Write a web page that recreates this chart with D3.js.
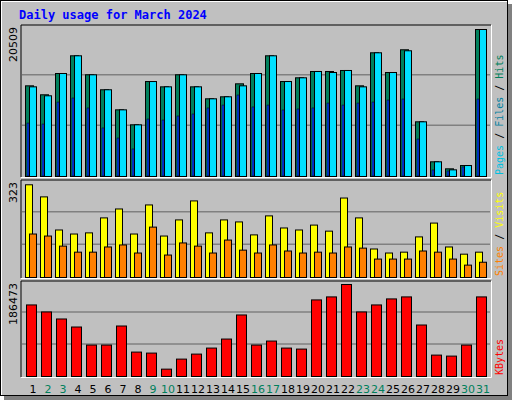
<!DOCTYPE html>
<html>
<head>
<meta charset="UTF-8">
<script src="https://d3js.org/d3.v7.min.js"></script>
<style>
  body { margin: 0; background: #fff; }
  text { font-family: "DejaVu Sans", sans-serif; }
</style>
</head>
<body>
<svg id="chart" width="512" height="400"></svg>
<script>
// values
let days = d3.range(1, 32)
let weekend = [2, 3, 9, 10, 16, 17, 23, 24, 30, 31]
let hits = [12650, 11400, 14370, 16840, 14190, 12100, 9300, 7210, 13250, 12510, 14190, 12510, 10840, 11120, 12930, 14370,
            16840, 13250, 13770, 14650, 14650, 14790, 12650, 17260, 14510, 17680, 7630, 2050, 1070, 1530, 20509]
let files = [12510, 11260, 14370, 16840, 14190, 12100, 9300, 7210, 13250, 12510, 14190, 12510, 10840, 11120, 12650, 14370,
             16840, 13250, 13770, 14650, 14510, 14790, 12510, 17260, 14510, 17540, 7630, 2050, 930, 1530, 20509]
let pages = [7390, 7250, 10320, 10880, 9490, 6700, 5300, 3770, 7950, 7810, 8370, 8650, 9490, 9900, 11300, 9630,
             9900, 9210, 9350, 9490, 10180, 9900, 10180, 10320, 10600, 10740, 5160, 840, 700, 1260, 10740]
let visits = [322, 280, 165, 151, 155, 207, 238, 151, 252, 144, 200, 266, 155, 200, 193, 148,
              214, 172, 165, 182, 161, 276, 207, 99, 85, 88, 141, 189, 106, 81, 88]
let sites = [151, 144, 109, 88, 88, 106, 113, 85, 175, 78, 120, 109, 85, 130, 95, 85,
             113, 92, 85, 88, 85, 106, 102, 64, 64, 64, 92, 88, 64, 43, 53]
let kbytes = [145050, 130820, 116580, 100310, 63710, 63710, 102350, 49480, 47450, 14910, 35250, 45410, 57610, 75910, 124720, 63710,
              71850, 57610, 55580, 155220, 161320, 186473, 130820, 145050, 157250, 161320, 104380, 43380, 41350, 63710, 161320]

let svg = d3.select("#chart")
let bg = "#c0c0c0"

// frame with shadow
svg.append("rect").attr("x", 4).attr("y", 4).attr("width", 508).attr("height", 396).attr("fill", "#808080")
svg.append("rect").attr("x", 0).attr("y", 0).attr("width", 508).attr("height", 396).attr("fill", "#000")
svg.append("rect").attr("x", 1).attr("y", 1).attr("width", 506).attr("height", 394).attr("fill", "#fff")
svg.append("rect").attr("x", 2).attr("y", 2).attr("width", 505).attr("height", 393).attr("fill", bg)

svg.append("text").attr("x", 19).attr("y", 19)
    .style("font-family", "'DejaVu Sans Mono', monospace").style("font-weight", "bold").style("font-size", "12px")
    .attr("fill", "#0000ff").text("Daily usage for March 2024")

let x = d3.scaleBand().domain(days).range([22, 487]).paddingInner(0)

function panel(top, bottom, topValue, maxVal, label, legend) {
    svg.append("rect").attr("x", 21).attr("y", top).attr("width", 470).attr("height", bottom - top)
        .attr("fill", bg)
    svg.append("path").attr("d", `M21,${bottom}V${top}H491`).attr("stroke", "#000").attr("fill", "none")
    svg.append("path").attr("d", `M21,${bottom + 0.5}H491.5V${top}`).attr("stroke", "#fff").attr("fill", "none")
    let h = bottom - top
    ;[1, 2].forEach(k => {
        svg.append("line").attr("x1", 22).attr("x2", 490)
            .attr("y1", bottom - 1 - k * h / 3).attr("y2", bottom - 1 - k * h / 3)
            .attr("stroke", "#808080").attr("stroke-width", 1.5)
    })
    svg.append("text").attr("transform", `translate(17,${top + 2}) rotate(-90)`)
        .attr("text-anchor", "end").style("font-size", "11px").attr("fill", "#000").text(label)
    let lg = svg.append("text").attr("transform", `translate(503,${bottom - 2}) rotate(-90)`)
        .style("font-family", "'DejaVu Sans Mono', monospace").style("font-size", "10px")
    legend.forEach((p, i) => {
        if (i > 0) lg.append("tspan").attr("fill", "#000").text(" / ")
        lg.append("tspan").attr("fill", p[1]).text(p[0])
    })
    return d3.scaleLinear().domain([0, maxVal]).range([bottom - 1, topValue])
}

function bars(data, y, dx, w, color) {
    svg.append("g").selectAll("rect").data(data).join("rect")
        .attr("x", (d, i) => x(days[i]) + dx + 0.5)
        .attr("y", d => y(d) + 0.5)
        .attr("width", w)
        .attr("height", d => y(0) - y(d))
        .attr("fill", color).attr("stroke", "#000")
}

// hits / files / pages
let y1 = panel(25, 177, 29, 20509, "20509", [["Pages", "#00c0e0"], ["Files", "#0080a0"], ["Hits", "#00805c"]])
bars(hits, y1, 3, 8, "#00805c")
bars(files, y1, 7, 7, "#00e0ff")
svg.append("g").selectAll("rect").data(pages).join("rect")
    .attr("x", (d, i) => x(days[i]) + 5).attr("y", d => y1(d))
    .attr("width", 2).attr("height", d => y1(0) - y1(d)).attr("fill", "#0040ff")
    .attr("stroke", "#000").attr("stroke-width", 0.5)

// visits / sites
let y2 = panel(180, 278, 184, 323, "323", [["Sites", "#ff8000"], ["Visits", "#ffff00"]])
bars(visits, y2, 3, 7, "#ffff00")
bars(sites, y2, 7, 7, "#ff8000")

// kbytes
let y3 = panel(281, 377, 284, 186473, "186473", [["KBytes", "#ff0000"]])
bars(kbytes, y3, 4, 10, "#ff0000")

// day labels
svg.append("g").selectAll("text").data(days).join("text")
    .attr("x", d => x(d) + 11).attr("y", 393).attr("text-anchor", "middle")
    .style("font-size", "11px")
    .attr("fill", d => weekend.includes(d) ? "#00805c" : "#000")
    .text(d => d)
</script>
</body>
</html>
